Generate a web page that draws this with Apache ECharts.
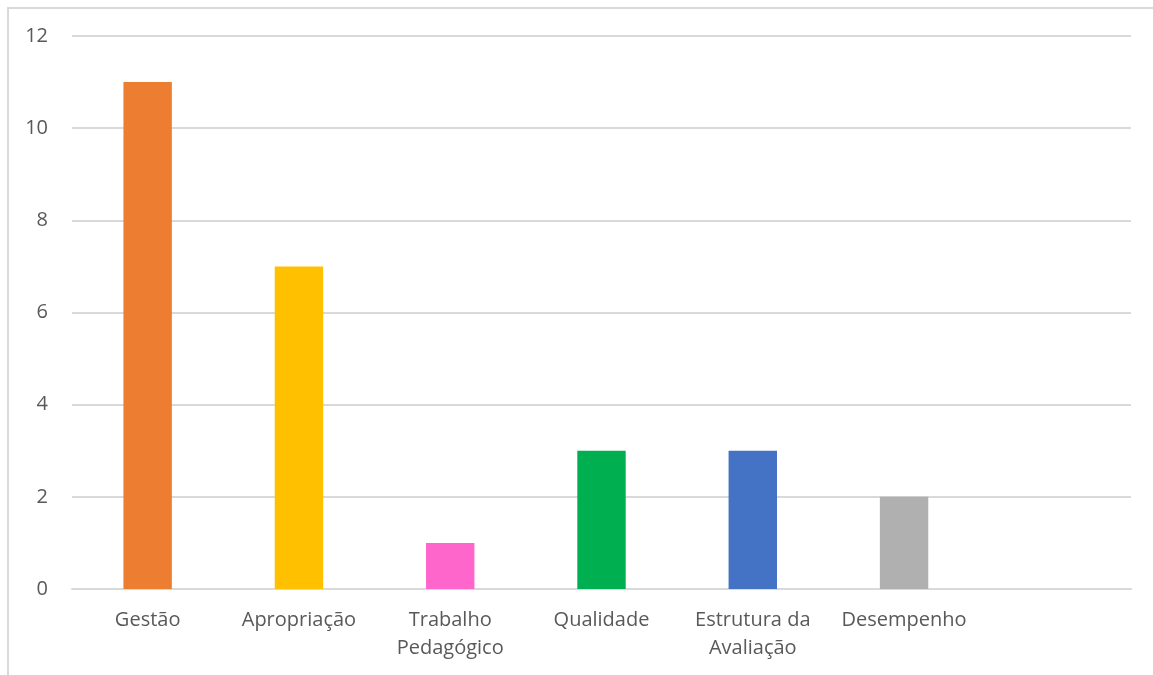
<!DOCTYPE html>
<html><head><meta charset="utf-8">
<script src="https://cdn.jsdelivr.net/npm/echarts@6/dist/echarts.min.js"></script>
<style>html,body{margin:0;padding:0;background:#fff}#c{width:1153px;height:675px}</style>
</head><body><div id="c"></div>
<script>
const categories = ['Gestão','Apropriação','Trabalho\nPedagógico','Qualidade','Estrutura da\nAvaliação','Desempenho',''];
const values = [11,7,1,3,3,2,null];
const colors = ['#ED7D31','#FFC000','#FF66CC','#00B050','#4472C4','#B0B0B0','#999999'];
const yTicks = [0,2,4,6,8,10,12];

const chart = echarts.init(document.getElementById('c'));
chart.setOption({
  animation:false,
  graphic:[{type:'rect',shape:{x:8,y:8,width:1200,height:700},style:{fill:'none',stroke:'#D9D9D9',lineWidth:2},silent:true}],
  grid:{left:72,right:22,top:36,bottom:86},
  xAxis:{type:'category',data:categories,
    axisLine:{lineStyle:{color:'#D9D9D9',width:2}},axisTick:{show:false},
    axisLabel:{color:'#595959',fontSize:20,fontFamily:'Open Sans, sans-serif',margin:17,lineHeight:28,interval:0}},
  yAxis:{type:'value',min:yTicks[0],max:yTicks[yTicks.length-1],interval:2,
    axisLine:{show:false},axisTick:{show:false},
    splitLine:{lineStyle:{color:'#D9D9D9',width:2}},
    axisLabel:{color:'#595959',fontSize:20,fontFamily:'Open Sans, sans-serif',margin:24}},
  series:[{type:'bar',data:values.map((v,i)=>({value:v,itemStyle:{color:colors[i]}})),barWidth:'32%'}]
});
</script></body></html>
